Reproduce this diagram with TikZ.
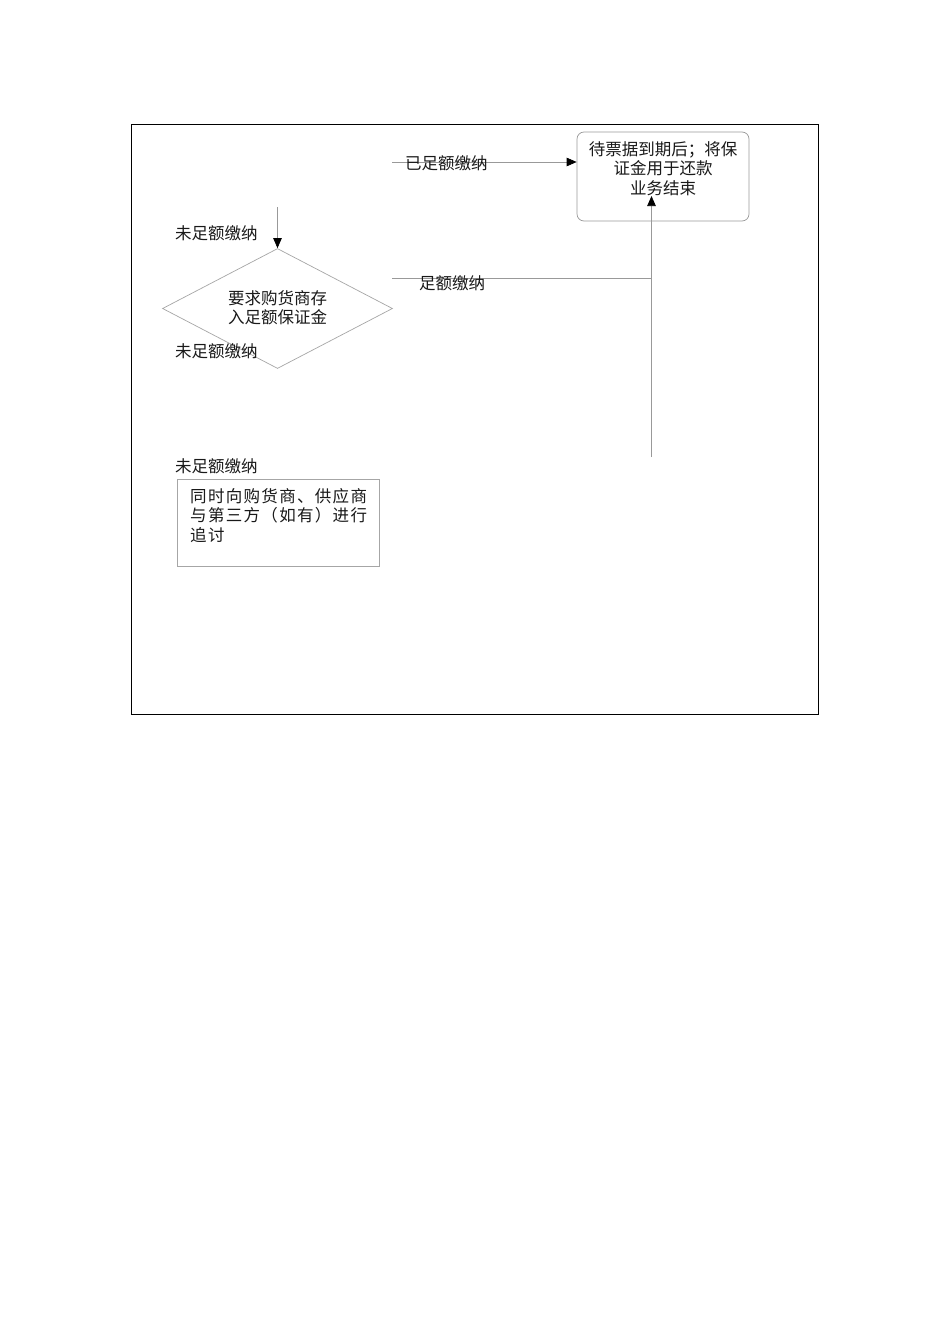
\documentclass[tikz,border=0pt]{standalone}
\usepackage{fontspec}
\newfontfamily\cjk{Noto Sans CJK SC}
\usetikzlibrary{shapes.geometric,arrows.meta}
\begin{document}
\begin{tikzpicture}[x=1pt,y=-1pt,
  frame/.style={draw=black, line width=1pt},
  gline/.style={draw=black!40, line width=0.7pt},
  arr/.style={gline, -{Triangle[length=10pt,width=8.5pt,black]}},
  lbl/.style={font=\cjk\fontsize{16.5}{19.5}\selectfont, inner sep=0pt, text=black!90},
  decision/.style={diamond, draw=black!35, line width=0.7pt, inner sep=0pt, minimum width=230pt, minimum height=120pt, aspect=1.9},
  roundbox/.style={rectangle, rounded corners=7pt, draw=black!40, line width=0.7pt, minimum width=172pt, minimum height=89pt, inner sep=0pt},
  plainbox/.style={rectangle, draw=black!35, line width=0.7pt, minimum width=202pt, minimum height=87pt, inner sep=0pt}
]
\useasboundingbox[fill=white] (0,0) rectangle (950,1344);
\draw[frame] (131,124) rectangle (818,714);

% nodes
\node[roundbox] (endbox) at (663,176.5) {};
\node[lbl, align=center] (endtxt) at (663,168.5) {待票据到期后；将保\\证金用于还款\\业务结束};
\node[decision] (dec) at (277.5,308.5) {};
\node[lbl, align=center, font=\cjk\fontsize{16.5}{19}\selectfont] (dectxt) at (277.5,307.5) {要求购货商存\\入足额保证金};
\node[plainbox] (track) at (278,522.5) {};
\node[lbl, align=left, anchor=west, font=\cjk\addfontfeature{LetterSpace=8}\fontsize{16.5}{19.5}\selectfont] (tracktxt) at (190,515.5) {同时向购货商、供应商\\与第三方（如有）进行\\追讨};

% coordinates
\coordinate (a1s) at (392,162);
\coordinate (a2h) at (392,278);
\coordinate (a2j) at (651.5,278);
\coordinate (a2b) at (651.5,457);
\coordinate (a2t) at (651.5,196);
\coordinate (a3s) at (277.5,207);

% connectors
\draw[arr] (a1s) -- (a1s -| endbox.west);
\draw[gline] (a2h) -- (a2j);
\draw[arr] (a2b) -- (a2t);
\draw[arr] (a3s) -- (dec.north);

% labels
\node[lbl, anchor=west] (l1) at (405,163.5) {已足额缴纳};
\node[lbl, anchor=west] (l2) at (419,283.5) {足额缴纳};
\node[lbl, anchor=west] (l3) at (175,233) {未足额缴纳};
\node[lbl, anchor=west] (l4) at (175,351) {未足额缴纳};
\node[lbl, anchor=west] (l5) at (175,466.5) {未足额缴纳};
\end{tikzpicture}
\end{document}
